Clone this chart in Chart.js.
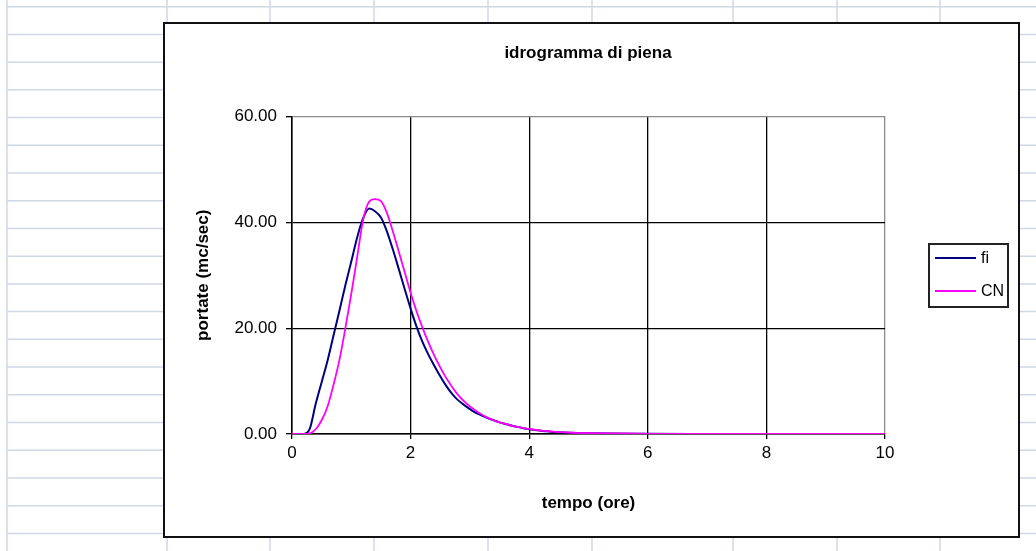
<!DOCTYPE html>
<html>
<head>
<meta charset="utf-8">
<script src="https://cdn.jsdelivr.net/npm/chart.js@4"></script>
<style>
html, body { margin: 0; padding: 0; background: #fff; }
#wrap { position: relative; width: 1036px; height: 551px; }
</style>
</head>
<body>
<div id="wrap"><canvas id="idro" width="1036" height="551"></canvas></div>
<script>
// tempi in ore
var tempi = [0, 0.1, 0.2, 0.3, 0.4, 0.5, 0.6, 0.7, 0.8, 0.9,
  1.0, 1.1, 1.2, 1.3, 1.4, 1.5, 1.6, 1.7, 1.8, 1.9,
  2.0, 2.1, 2.2, 2.3, 2.4, 2.5, 2.6, 2.7, 2.8, 2.9,
  3.0, 3.1, 3.2, 3.3, 3.4, 3.5, 3.6, 3.7, 3.8, 3.9,
  4.0, 4.1, 4.2, 4.3, 4.4, 4.5, 4.6, 4.7, 4.8, 4.9,
  5.0, 6, 7, 8, 9, 10];

// portate (mc/sec) - metodo fi
var portateFi = [0, 0, 0, 1.0, 5.7, 9.8, 13.9, 18.6, 23.3, 28.1,
  32.6, 37.2, 40.8, 42.6, 42.1, 40.9, 38.3, 34.9, 31.2, 27.4,
  23.7, 20.3, 17.4, 15.0, 12.9, 10.9, 9.1, 7.6, 6.4, 5.5,
  4.7, 4.0, 3.5, 3.0, 2.6, 2.2, 1.9, 1.6, 1.35, 1.1,
  0.9, 0.75, 0.6, 0.5, 0.4, 0.33, 0.27, 0.22, 0.18, 0.15,
  0.12, 0.03, 0.01, 0, 0, 0];

// portate (mc/sec) - metodo CN
var portateCN = [0, 0, 0, 0.1, 0.9, 2.6, 5.2, 9.3, 14.0, 20.0,
  26.5, 33.5, 40.5, 43.9, 44.4, 44.0, 41.8, 38.3, 34.5, 30.6,
  26.7, 23.2, 20.1, 17.3, 14.8, 12.6, 10.6, 8.9, 7.4, 6.2,
  5.2, 4.4, 3.7, 3.1, 2.6, 2.2, 1.9, 1.6, 1.35, 1.15,
  0.95, 0.8, 0.65, 0.55, 0.45, 0.37, 0.3, 0.25, 0.2, 0.17,
  0.14, 0.04, 0.01, 0, 0, 0];

var tickY = [0, 20, 40, 60];
var tickX = [0, 2, 4, 6, 8, 10];

var FONT = '"Liberation Sans", Arial, sans-serif';
Chart.defaults.font.family = FONT;
Chart.defaults.color = '#000';

function punti(ys) {
  return tempi.map(function (t, i) { return { x: t, y: ys[i] }; });
}

// sfondo foglio di calcolo + riquadro del grafico, titolo e legenda
var foglio = {
  id: 'foglio',
  beforeDraw: function (chart) {
    var c = chart.ctx;
    var W = chart.width, H = chart.height;
    c.save();
    c.fillStyle = '#fff';
    c.fillRect(0, 0, W, H);
    c.strokeStyle = '#d0d7e5';
    c.lineWidth = 1.5;
    var cols = [7, 167, 270, 374, 488, 592, 733, 837, 940];
    cols.forEach(function (x) {
      c.beginPath(); c.moveTo(x, 0); c.lineTo(x, H); c.stroke();
    });
    for (var k = 0; k < 20; k++) {
      var y = 6.7 + 27.72 * k;
      c.beginPath(); c.moveTo(7, y); c.lineTo(W, y); c.stroke();
    }
    c.fillStyle = '#fff';
    c.fillRect(164, 23, 855, 514);
    c.strokeStyle = '#111';
    c.lineWidth = 2;
    c.strokeRect(164, 23, 855, 514);
    c.restore();
  },
  afterDraw: function (chart) {
    var c = chart.ctx;
    c.save();
    c.fillStyle = '#000';
    c.font = 'bold 17px ' + FONT;
    c.textAlign = 'center';
    c.textBaseline = 'middle';
    c.fillText('idrogramma di piena', 588, 53);

    // legenda
    c.fillStyle = '#fff';
    c.fillRect(929, 244, 79, 63);
    c.strokeStyle = '#222';
    c.lineWidth = 2;
    c.strokeRect(929, 244, 79, 63);
    c.font = '16px ' + FONT;
    c.textAlign = 'left';
    var righe = [258, 291];
    chart.data.datasets.forEach(function (ds, i) {
      c.strokeStyle = ds.borderColor;
      c.lineWidth = 2;
      c.beginPath(); c.moveTo(935, righe[i]); c.lineTo(976, righe[i]); c.stroke();
      c.fillStyle = '#000';
      c.fillText(ds.label, 981, righe[i] + 1);
    });
    c.restore();
  }
};

new Chart(document.getElementById('idro'), {
  type: 'line',
  data: {
    datasets: [
      { label: 'fi', data: punti(portateFi), borderColor: '#000080', borderWidth: 2,
        pointRadius: 0, fill: false, cubicInterpolationMode: 'monotone', order: 1 },
      { label: 'CN', data: punti(portateCN), borderColor: '#ff00ff', borderWidth: 1.8,
        pointRadius: 0, fill: false, cubicInterpolationMode: 'monotone', order: 0 }
    ]
  },
  options: {
    responsive: false,
    animation: false,
    layout: { padding: { left: 163, top: 116.5, right: 151, bottom: 37 } },
    plugins: { legend: { display: false }, tooltip: { enabled: false }, title: { display: false } },
    scales: {
      x: {
        type: 'linear', min: 0, max: 10,
        afterBuildTicks: function (s) { s.ticks = tickX.map(function (v) { return { value: v }; }); },
        afterFit: function (s) { s.height = 80; },
        ticks: { padding: 4, font: { size: 17 }, color: '#000', maxRotation: 0 },
        grid: {
          color: function (ctx) { return ctx.tick && ctx.tick.value === 10 ? '#8c8c8c' : '#000'; },
          tickColor: '#000', tickLength: 5, lineWidth: 1.3
        },
        border: { color: '#000', width: 1.5 },
        title: { display: true, text: 'tempo (ore)', font: { size: 17, weight: 'bold' },
          color: '#000', padding: { top: 13, bottom: 0 } }
      },
      y: {
        min: 0, max: 60,
        afterBuildTicks: function (s) { s.ticks = tickY.map(function (v) { return { value: v }; }); },
        afterFit: function (s) { s.width = 129; },
        ticks: { padding: 9, font: { size: 17 }, color: '#000',
          callback: function (v) { return Number(v).toFixed(2); } },
        grid: {
          color: function (ctx) { return ctx.tick && ctx.tick.value === 60 ? '#8c8c8c' : '#000'; },
          tickColor: '#000', tickLength: 6, lineWidth: 1.3
        },
        border: { color: '#000', width: 1.5 },
        title: { display: true, text: 'portate (mc/sec)', font: { size: 17, weight: 'bold' },
          color: '#000', padding: { top: 30, bottom: 0 } }
      }
    }
  },
  plugins: [foglio]
});
</script>
</body>
</html>
